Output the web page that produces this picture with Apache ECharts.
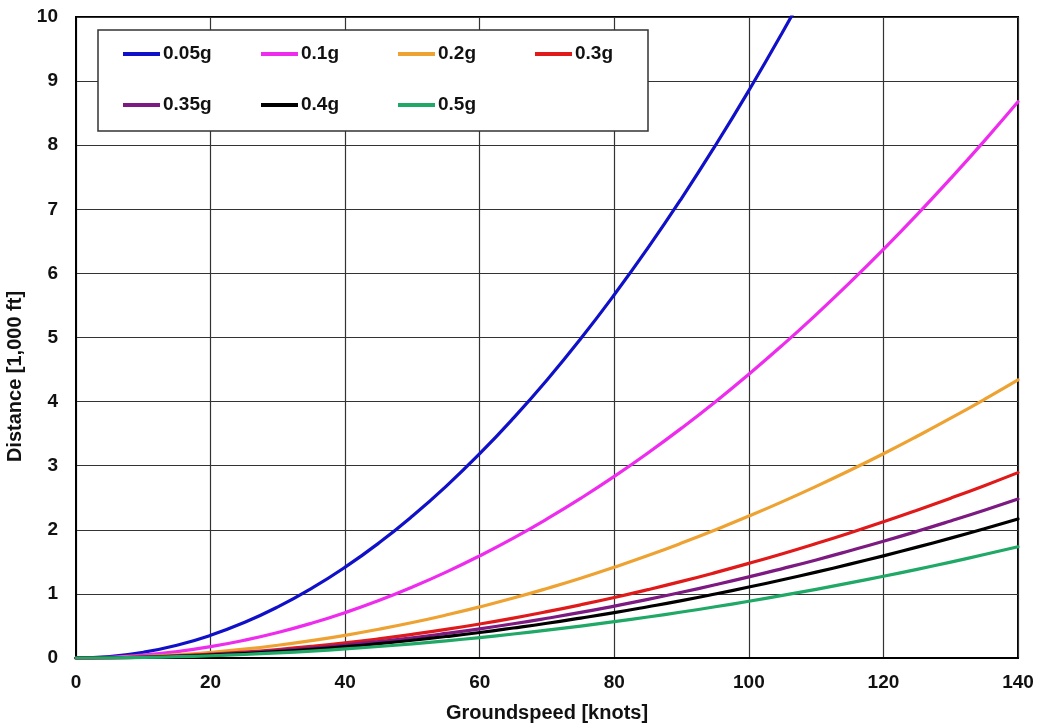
<!DOCTYPE html>
<html>
<head>
<meta charset="utf-8">
<script src="https://cdn.jsdelivr.net/npm/echarts@6/dist/echarts.min.js"></script>
<style>
  html, body { margin: 0; padding: 0; background: #fff; }
  #chart { width: 1039px; height: 724px; }
</style>
</head>
<body>
<div id="chart"></div>
<script>
// Groundspeed in knots
const speeds = [0, 5, 10, 15, 20, 25, 30, 35, 40, 45, 50, 55, 60, 65, 70,
                75, 80, 85, 90, 95, 100, 105, 110, 115, 120, 125, 130, 135, 140];

// Stopping distance [1,000 ft] for each deceleration level
const dist005 = [0, 0.022, 0.089, 0.199, 0.354, 0.553, 0.797, 1.085, 1.417, 1.793, 2.214, 2.678, 3.187, 3.741, 4.338,
                 4.980, 5.667, 6.397, 7.172, 7.991, 8.854, 9.762, 10.713];
const dist01  = [0, 0.011, 0.044, 0.100, 0.177, 0.277, 0.398, 0.542, 0.708, 0.896, 1.107, 1.339, 1.594, 1.870, 2.169,
                 2.490, 2.833, 3.199, 3.586, 3.995, 4.427, 4.881, 5.357, 5.855, 6.375, 6.917, 7.482, 8.068, 8.677];
const dist02  = [0, 0.006, 0.022, 0.050, 0.089, 0.138, 0.199, 0.271, 0.354, 0.448, 0.553, 0.670, 0.797, 0.935, 1.085,
                 1.245, 1.417, 1.599, 1.793, 1.998, 2.214, 2.440, 2.678, 2.927, 3.187, 3.459, 3.741, 4.034, 4.338];
const dist03  = [0, 0.004, 0.015, 0.033, 0.059, 0.092, 0.133, 0.181, 0.236, 0.299, 0.369, 0.446, 0.531, 0.623, 0.723,
                 0.830, 0.944, 1.066, 1.195, 1.332, 1.476, 1.627, 1.786, 1.952, 2.125, 2.306, 2.494, 2.689, 2.892];
const dist035 = [0, 0.003, 0.013, 0.028, 0.051, 0.079, 0.114, 0.155, 0.202, 0.256, 0.316, 0.383, 0.455, 0.534, 0.620,
                 0.711, 0.810, 0.914, 1.025, 1.142, 1.265, 1.395, 1.530, 1.673, 1.821, 1.976, 2.138, 2.305, 2.479];
const dist04  = [0, 0.003, 0.011, 0.025, 0.044, 0.069, 0.100, 0.136, 0.177, 0.224, 0.277, 0.335, 0.398, 0.468, 0.542,
                 0.623, 0.708, 0.800, 0.896, 0.999, 1.107, 1.220, 1.339, 1.464, 1.594, 1.729, 1.870, 2.017, 2.169];
const dist05  = [0, 0.002, 0.009, 0.020, 0.035, 0.055, 0.080, 0.108, 0.142, 0.179, 0.221, 0.268, 0.319, 0.374, 0.434,
                 0.498, 0.567, 0.640, 0.717, 0.799, 0.885, 0.976, 1.071, 1.171, 1.275, 1.383, 1.496, 1.614, 1.735];

const seriesNames = ['0.05g', '0.1g', '0.2g', '0.3g', '0.35g', '0.4g', '0.5g'];
const seriesValues = [dist005, dist01, dist02, dist03, dist035, dist04, dist05];
const seriesColors = ['#1010c8', '#ee2cee', '#eea232', '#e01a1a', '#7d1a82', '#000000', '#1fa866'];

const FONT = '"Liberation Sans", Arial, sans-serif';

const chart = echarts.init(document.getElementById('chart'), null, { renderer: 'canvas' });

const series = seriesNames.map((name, i) => ({
  name,
  type: 'line',
  smooth: 0.5,
  showSymbol: false,
  clip: true,
  z: 2 + i * 0.01,
  lineStyle: { width: 3.2, color: seriesColors[i], cap: 'round', join: 'round' },
  itemStyle: { color: seriesColors[i] },
  data: seriesValues[i].map((v, k) => [speeds[k], v])
}));

// Legend laid out as four columns of up to two rows
const legendColumns = [
  { left: 123, names: ['0.05g', '0.35g'] },
  { left: 261, names: ['0.1g', '0.4g'] },
  { left: 398, names: ['0.2g', '0.5g'] },
  { left: 535, names: ['0.3g'] }
];
const legends = legendColumns.map(col => ({
  orient: 'vertical',
  left: col.left,
  top: 44,
  padding: 0,
  itemGap: 31,
  icon: 'rect',
  itemWidth: 37,
  itemHeight: 4,
  z: 5,
  data: col.names,
  selectedMode: false,
  textStyle: {
    fontFamily: FONT, fontWeight: 'bold', fontSize: 19, color: '#111',
    lineHeight: 20, padding: [0, 0, 0, -2]
  }
}));

chart.setOption({
  animation: false,
  backgroundColor: '#ffffff',
  grid: {
    left: 76, right: 21, top: 17, bottom: 66,
    outerBoundsMode: 'none',
    show: true, borderColor: '#000', borderWidth: 2, backgroundColor: 'transparent'
  },
  legend: legends,
  graphic: [{
    type: 'rect',
    z: 4,
    shape: { x: 98, y: 30, width: 550, height: 101 },
    style: { fill: '#ffffff', stroke: '#333', lineWidth: 1.5 }
  }],
  xAxis: {
    type: 'value',
    min: 0, max: 140, interval: 20,
    name: 'Groundspeed [knots]',
    nameLocation: 'middle',
    nameGap: 45,
    nameTextStyle: { fontFamily: FONT, fontWeight: 'bold', fontSize: 20, color: '#111' },
    axisLine: { show: true, lineStyle: { color: '#000', width: 2 } },
    axisTick: { show: false },
    axisLabel: { fontFamily: FONT, fontWeight: 'bold', fontSize: 19, color: '#111', margin: 15 },
    splitLine: { show: true, lineStyle: { color: '#333', width: 1.2 } }
  },
  yAxis: {
    type: 'value',
    min: 0, max: 10, interval: 1,
    name: 'Distance [1,000 ft]',
    nameLocation: 'middle',
    nameGap: 44,
    nameTextStyle: {
      fontFamily: FONT, fontWeight: 'bold', fontSize: 20, color: '#111',
      padding: [0, 78, 0, 0]
    },
    axisLine: { show: true, lineStyle: { color: '#000', width: 2 } },
    axisTick: { show: false },
    axisLabel: { fontFamily: FONT, fontWeight: 'bold', fontSize: 19, color: '#111', margin: 18 },
    splitLine: { show: true, lineStyle: { color: '#333', width: 1.2 } }
  },
  series
});
</script>
</body>
</html>
